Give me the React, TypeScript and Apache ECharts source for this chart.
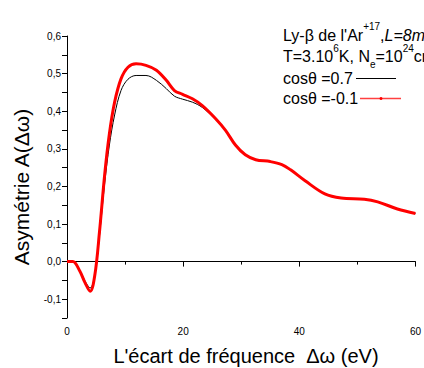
import React, { useEffect, useRef } from "react";
import * as echarts from "echarts";

const xValues = [0, 1, 2.2, 3.1, 4.0, 4.8, 5.6, 6.5, 7.3, 8.2, 9.3, 10.5, 11.9, 13.6, 15.4, 17.1, 18.5, 19.9, 21.6, 23.3, 25.6, 27.3, 29, 30.7, 32.5, 35, 37, 38.5, 41, 44.4, 47.2, 51.2, 53.5, 56.9, 60];
const redValues = [0, 0, -0.025, -0.056, -0.079, -0.035, 0.08, 0.233, 0.34, 0.424, 0.486, 0.517, 0.526, 0.522, 0.509, 0.482, 0.455, 0.445, 0.433, 0.415, 0.38, 0.349, 0.31, 0.284, 0.271, 0.266, 0.258, 0.244, 0.215, 0.18, 0.169, 0.166, 0.159, 0.14, 0.128];
const blackValues = [0, 0, -0.024, -0.052, -0.07, -0.035, 0.07, 0.21, 0.31, 0.39, 0.455, 0.485, 0.495, 0.495, 0.482, 0.46, 0.44, 0.432, 0.424, 0.41, 0.378, 0.349, 0.31, 0.284, 0.271, 0.266, 0.258, 0.244, 0.215, 0.18, 0.169, 0.166, 0.159, 0.14, 0.128];
const seriesNames = ["cosθ =0.7", "cosθ =-0.1"];
const xAxisName = "L'écart de fréquence  Δω (eV)";
const yAxisName = "Asymétrie A(Δω)";

export default function App() {
  const ref = useRef<HTMLDivElement>(null);
  useEffect(() => {
    const chart = echarts.init(ref.current!, null, { renderer: "svg" });
    const font = "Arial, 'Liberation Sans', sans-serif";
    const mk = (ys: number[]) => xValues.map((x, i) => [x, ys[i]]);
    const fs = 16;
    chart.setOption({
      animation: false,
      textStyle: { fontFamily: font },
      grid: { left: 67, right: 6, top: 36, bottom: 50 },
      xAxis: {
        type: "value",
        min: 0,
        max: 60,
        interval: 20,
        axisLine: { lineStyle: { color: "#000", width: 1 } },
        axisTick: { length: 5, lineStyle: { color: "#000" } },
        minorTick: { show: true, splitNumber: 2, length: 3, lineStyle: { color: "#000" } },
        axisLabel: { fontSize: 10, color: "#000", margin: 8 },
        splitLine: { show: false },
      },
      yAxis: {
        type: "value",
        min: -0.15,
        max: 0.6,
        interval: 0.05,
        axisLine: { show: true, lineStyle: { color: "#000", width: 1 } },
        axisTick: { show: true, length: 5, lineStyle: { color: "#000" } },
        axisLabel: {
          fontSize: 10,
          color: "#000",
          margin: 6,
          formatter: (v: number) => {
            const k = Math.round(v * 20);
            if (k % 2 !== 0) return "";
            return (k / 20).toFixed(1).replace(".", ",");
          },
        },
        splitLine: { show: false },
      },
      series: [
        {
          name: seriesNames[0],
          type: "line",
          data: mk(blackValues),
          smooth: 0.35,
          showSymbol: false,
          lineStyle: { color: "#000", width: 1 },
          z: 2,
        },
        {
          name: seriesNames[1],
          type: "line",
          data: mk(redValues),
          smooth: 0.35,
          showSymbol: false,
          lineStyle: { color: "#ff0000", width: 3 },
          z: 3,
        },
      ],
      graphic: [
        {
          type: "text",
          x: 246,
          y: 356,
          style: {
            text: xAxisName,
            fontSize: 20,
            fontFamily: font,
            fill: "#000",
            align: "center",
            verticalAlign: "middle",
          },
        },
        {
          type: "text",
          x: 21,
          y: 187,
          rotation: Math.PI / 2,
          style: {
            text: yAxisName,
            fontSize: 21,
            fontFamily: font,
            fill: "#000",
            align: "center",
            verticalAlign: "middle",
          },
        },
        {
          type: "text",
          left: 283,
          top: 21,
          style: {
            text: "{a|Ly-β de l'Ar}{s|+17}{a|,}{i|L=8m}",
            rich: {
              a: { fontSize: fs, fontFamily: font, fill: "#000", lineHeight: 22, verticalAlign: "bottom" },
              i: { fontSize: fs, fontFamily: font, fontStyle: "italic", fill: "#000", lineHeight: 22, verticalAlign: "bottom" },
              s: { fontSize: 10, fontFamily: font, fill: "#000", lineHeight: 22, verticalAlign: "top" },
            },
          },
        },
        {
          type: "text",
          left: 283,
          top: 43,
          style: {
            text: "{a|T=3.10}{s|6}{a|K, N}{b|e}{a|=10}{s|24}{a|cm}",
            rich: {
              a: { fontSize: fs, fontFamily: font, fill: "#000", lineHeight: 22, verticalAlign: "middle" },
              s: { fontSize: 10, fontFamily: font, fill: "#000", lineHeight: 22, verticalAlign: "top" },
              b: { fontSize: 10, fontFamily: font, fill: "#000", lineHeight: 26, verticalAlign: "bottom", padding: [9, 0, 0, 0] },
            },
          },
        },
        {
          type: "text",
          left: 283,
          top: 70,
          style: { text: seriesNames[0], fontSize: fs, fontFamily: font, fill: "#000" },
        },
        {
          type: "line",
          shape: { x1: 356, y1: 78.5, x2: 396, y2: 78.5 },
          style: { stroke: "#000", lineWidth: 1 },
        },
        {
          type: "text",
          left: 283,
          top: 90,
          style: { text: seriesNames[1], fontSize: fs, fontFamily: font, fill: "#000" },
        },
        {
          type: "line",
          shape: { x1: 360, y1: 98.5, x2: 401, y2: 98.5 },
          style: { stroke: "rgba(255,0,0,0.75)", lineWidth: 1.5 },
        },
        {
          type: "circle",
          shape: { cx: 381, cy: 98.5, r: 1.5 },
          style: { fill: "#ff0000" },
        },
      ],
    });
    return () => chart.dispose();
  }, []);
  return <div ref={ref} style={{ width: 424, height: 368, position: "absolute", left: 0, top: 0 }} />;
}
